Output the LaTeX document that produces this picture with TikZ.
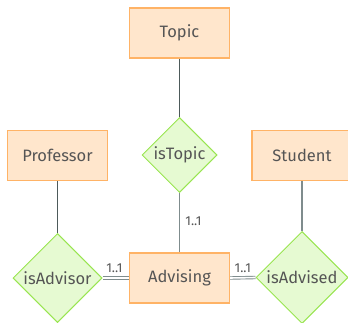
\documentclass[tikz,border=0pt]{standalone}
\usepackage{fontspec}
\setmainfont{Fira Sans}
\usetikzlibrary{shapes.geometric}
\definecolor{entfill}{HTML}{FFE6CC}
\definecolor{entdraw}{HTML}{FFB366}
\definecolor{relfill}{HTML}{E6FAD2}
\definecolor{reldraw}{HTML}{99E550}
\definecolor{txt}{HTML}{555555}
\definecolor{lndark}{HTML}{4D5A5A}
\definecolor{lngray}{HTML}{7F8C8D}
\begin{document}
\begin{tikzpicture}[x=1pt,y=-1pt,
  entity/.style={draw=entdraw,fill=entfill,line width=1.2pt,minimum width=100pt,minimum height=50pt,inner sep=0pt,text=txt,font=\fontsize{16.5}{19}\selectfont},
  rel/.style={draw=reldraw,fill=relfill,line width=1pt,diamond,inner sep=0pt,text=txt,font=\fontsize{16.5}{19}\selectfont},
  thin/.style={draw=lndark,line width=0.9pt},
  thick/.style={draw=lngray,line width=1.8pt},
  dbl/.style={draw=lngray,line width=0.9pt,double=white,double distance=1.6pt},
  card/.style={text=txt,font=\fontsize{13}{15}\selectfont,inner sep=0pt}]
\useasboundingbox (0,0) rectangle (348,323);
\node[entity] (topic) at (179.5,33) {Topic};
\node[entity] (prof) at (57.5,155.5) {Professor};
\node[entity] (stud) at (302,155.5) {Student};
\node[entity] (adv) at (179.5,278) {Advising};
\node[rel,minimum width=75pt,minimum height=75pt] (istopic) at (179.5,155) {isTopic};
\node[rel,minimum width=89pt,minimum height=89pt] (isadvisor) at (57.5,278) {isAdvisor};
\node[rel,minimum width=92pt,minimum height=92pt] (isadvised) at (302,277.5) {isAdvised};
\draw[thin] (topic.south) -- (istopic.north);
\draw[thin] (prof.south) -- (isadvisor.north);
\draw[thick] (stud.south) -- (isadvised.north);
\draw[thick] (istopic.south) -- (adv.north) node[card,pos=0.47,right=5pt] {1..1};
\draw[dbl] (isadvisor.east) -- (adv.west) node[card,pos=0.45,above=5pt] {1..1};
\draw[dbl] (adv.east) -- (isadvised.west) node[card,pos=0.5,above=5pt] {1..1};
\end{tikzpicture}
\end{document}
